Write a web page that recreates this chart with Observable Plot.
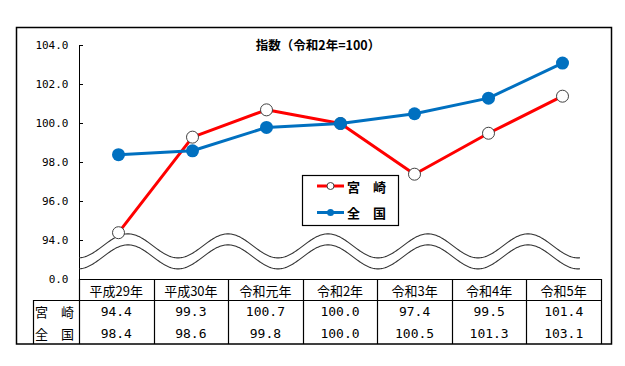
<!DOCTYPE html>
<html><head><meta charset="utf-8">
<script src="https://cdn.jsdelivr.net/npm/d3@7"></script>
<script src="https://cdn.jsdelivr.net/npm/@observablehq/plot@0.6"></script>
<style>body{margin:0;background:#fff}</style>
</head><body><div id="chart"></div>
<script>
const years = ["平成29年","平成30年","令和元年","令和2年","令和3年","令和4年","令和5年"];
const miyazaki = [94.4, 99.3, 100.7, 100.0, 97.4, 99.5, 101.4];
const zenkoku = [98.4, 98.6, 99.8, 100.0, 100.5, 101.3, 103.1];
const seriesNames = ["宮　崎", "全　国"];
const seriesColors = ["#FF0000", "#0070C0"];
const yTicks = [92, 94, 96, 98, 100, 102, 104];
const yTickLabels = ["0.0", "94.0", "96.0", "98.0", "100.0", "102.0", "104.0"];
const title = "指数（令和2年=100）";

const mono = "'DejaVu Sans Mono', monospace";
const jp = "'Noto Sans CJK JP', sans-serif";

const dataM = years.map((yr, i) => ({year: yr, value: miyazaki[i]}));
const dataZ = years.map((yr, i) => ({year: yr, value: zenkoku[i]}));

function decor(index, scales, values, dims) {
  const {marginLeft: ml, marginRight: mr, width: W} = dims;
  const y = scales.y;
  const bw = (W - ml - mr) / years.length;
  const left = ml, right = W - mr;
  const top = y(104), base = y(92);
  const g = d3.create("svg:g");
  // outer border
  g.append("rect").attr("x", 16.5).attr("y", 27.5).attr("width", 595).attr("height", 316.5)
    .attr("fill", "none").attr("stroke", "#000").attr("stroke-width", 1.5);
  // y axis line + inward ticks
  g.append("line").attr("x1", left + 0.5).attr("x2", left + 0.5).attr("y1", top).attr("y2", base)
    .attr("stroke", "#000");
  yTicks.slice(1).forEach(t => {
    g.append("line").attr("x1", left).attr("x2", left + 4).attr("y1", Math.round(y(t)) + 0.5).attr("y2", Math.round(y(t)) + 0.5)
      .attr("stroke", "#000");
  });
  // wavy break lines
  const yc = y(93.7);
  const line = d3.line();
  [0, 11].forEach(off => {
    const pts = d3.range(left, 580.5, 1).map(px => [px, yc + off - 12 * Math.cos(2 * Math.PI * (px - 128) / 100)]);
    g.append("path").attr("d", line(pts)).attr("fill", "none").attr("stroke", "#333").attr("stroke-width", 1.1);
  });
  // table
  const rowTop = base, r1 = base + 21, bottom = 344;
  const tg = g.append("g").attr("stroke", "#000").attr("stroke-width", 1.2);
  tg.append("line").attr("x1", left).attr("x2", right).attr("y1", rowTop + 0.5).attr("y2", rowTop + 0.5);
  tg.append("line").attr("x1", 33).attr("x2", right).attr("y1", r1 + 0.5).attr("y2", r1 + 0.5);
  tg.append("line").attr("x1", 33.5).attr("x2", 33.5).attr("y1", r1).attr("y2", bottom);
  for (let i = 0; i <= years.length; i++) {
    const px = Math.round(left + i * bw) + 0.5;
    tg.append("line").attr("x1", px).attr("x2", px).attr("y1", rowTop).attr("y2", bottom);
  }
  const rowCenters = [rowTop + 11, r1 + 11.5, r1 + 33];
  years.forEach((yr, i) => {
    const cx = left + (i + 0.5) * bw;
    g.append("text").attr("x", cx).attr("y", rowCenters[0]).attr("text-anchor", "middle")
      .attr("dominant-baseline", "central").attr("font-family", jp).attr("font-size", 13).text(yr);
    g.append("text").attr("x", cx).attr("y", rowCenters[1]).attr("text-anchor", "middle")
      .attr("dominant-baseline", "central").attr("font-family", mono).attr("font-size", 13).text(miyazaki[i].toFixed(1));
    g.append("text").attr("x", cx).attr("y", rowCenters[2]).attr("text-anchor", "middle")
      .attr("dominant-baseline", "central").attr("font-family", mono).attr("font-size", 13).text(zenkoku[i].toFixed(1));
  });
  seriesNames.forEach((n, k) => {
    g.append("text").attr("x", 35).attr("y", rowCenters[k + 1]).attr("text-anchor", "start")
      .attr("dominant-baseline", "central").attr("font-family", jp).attr("font-size", 13).text(n);
  });
  // title
  g.append("text").attr("x", 318).attr("y", 44).attr("text-anchor", "middle").attr("dominant-baseline", "central")
    .attr("font-family", jp).attr("font-weight", "bold").attr("font-size", 12.5).text(title);
  // legend
  const lg = g.append("g");
  lg.append("rect").attr("x", 302.5).attr("y", 175.5).attr("width", 96).attr("height", 50)
    .attr("fill", "#fff").attr("stroke", "#000").attr("stroke-width", 1.2);
  const ly = [186, 212.5];
  seriesNames.forEach((n, k) => {
    lg.append("line").attr("x1", 317).attr("x2", 344).attr("y1", ly[k]).attr("y2", ly[k])
      .attr("stroke", seriesColors[k]).attr("stroke-width", 3);
    lg.append("circle").attr("cx", 330.5).attr("cy", ly[k]).attr("r", 3.5)
      .attr("fill", k === 0 ? "#fff" : seriesColors[k]).attr("stroke", k === 0 ? "#404040" : "none");
    lg.append("text").attr("x", 347).attr("y", ly[k]).attr("text-anchor", "start").attr("dominant-baseline", "central")
      .attr("font-family", jp).attr("font-weight", "bold").attr("font-size", 13).text(n);
  });
  return g.node();
}

const chart = Plot.plot({
  width: 625,
  height: 366,
  marginLeft: 79,
  marginRight: 24,
  marginTop: 45,
  marginBottom: 87,
  style: {background: "#fff", overflow: "visible"},
  x: {type: "band", domain: years, padding: 0, axis: null},
  y: {domain: [92, 104], axis: null},
  marks: [
    Plot.axisY({ticks: yTicks, tickFormat: d => yTickLabels[yTicks.indexOf(d)], tickSize: 0, tickPadding: 11,
      fontFamily: mono, fontSize: 11, label: null, color: "#000"}),
    decor,
    Plot.line(dataM, {x: "year", y: "value", stroke: seriesColors[0], strokeWidth: 3}),
    Plot.dot(dataM, {x: "year", y: "value", r: 6, fill: "#fff", stroke: "#404040", strokeWidth: 1}),
    Plot.line(dataZ, {x: "year", y: "value", stroke: seriesColors[1], strokeWidth: 3}),
    Plot.dot(dataZ, {x: "year", y: "value", r: 6.5, fill: seriesColors[1], stroke: "none"})
  ]
});
document.getElementById("chart").appendChild(chart);
</script>
</body></html>
